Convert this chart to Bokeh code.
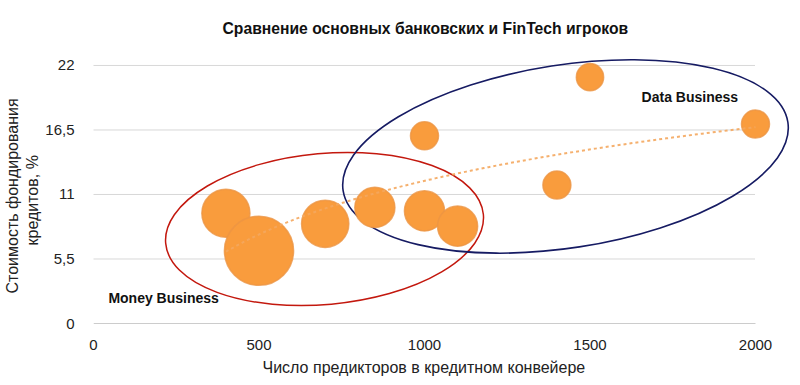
import numpy as np
from bokeh.plotting import figure
from bokeh.models import Range1d, FixedTicker, ColumnDataSource, Title
from bokeh.core.properties import value
from bokeh.embed import file_html
from bokeh.resources import INLINE

# ---- data ----
predictors = [400, 500, 700, 850, 1000, 1100, 1000, 1400, 1500, 2000]
funding_cost = [9.4, 6.2, 8.5, 9.9, 9.6, 8.3, 16.0, 11.8, 21.0, 17.0]
bubble_weight = [2.95, 6.1, 2.85, 2.05, 2.05, 2.05, 1.0, 1.0, 0.95, 1.0]
y_ticks = [0, 5.5, 11, 16.5, 22]
y_tick_labels = ["0", "5,5", "11", "16,5", "22"]
x_ticks = [0, 500, 1000, 1500, 2000]
x_tick_labels = ["0", "500", "1000", "1500", "2000"]
groups = ["Money Business", "Data Business"]
title_text = "Сравнение основных банковских и FinTech игроков"
x_title = "Число предикторов в кредитном конвейере"
y_title_lines = ["Стоимость фондирования", "кредитов, %"]

FONT = "Liberation Sans"

p = figure(width=800, height=385, output_backend="svg", toolbar_location=None,
           x_range=Range1d(0, 2136), y_range=Range1d(0, 23.02),
           min_border_left=93, min_border_right=0, min_border_top=53,
           min_border_bottom=62)
p.outline_line_color = None
p.xgrid.visible = False
p.ygrid.visible = False

# axes (tick labels only)
for ax in (p.xaxis[0], p.yaxis[0]):
    ax.axis_line_color = None
    ax.major_tick_line_color = None
    ax.minor_tick_line_color = None
    ax.major_label_text_font = FONT
    ax.major_label_text_font_size = "15px"
    ax.major_label_text_color = "#222222"

p.xaxis.ticker = FixedTicker(ticks=x_ticks)
p.xaxis.major_label_overrides = {t: l for t, l in zip(x_ticks, x_tick_labels)}
p.xaxis.major_label_standoff = 10

p.yaxis.ticker = FixedTicker(ticks=y_ticks)
p.yaxis.major_label_overrides = {t: l for t, l in zip(y_ticks, y_tick_labels)}
p.yaxis.major_label_standoff = 13

# chart title and axis titles (offset so they centre on the 0..2000 area)
p.add_layout(Title(text=title_text, align="left", offset=129, standoff=33,
                   text_font=FONT, text_font_size="15.7px", text_font_style="bold",
                   text_color="#111111"), "above")
p.add_layout(Title(text=x_title, align="left", offset=169, standoff=8,
                   text_font=FONT, text_font_size="16px", text_font_style="normal",
                   text_color="#222222"), "below")
p.add_layout(Title(text=y_title_lines[1], align="left", offset=78, standoff=3,
                   text_font=FONT, text_font_size="16px", text_font_style="normal",
                   text_color="#222222"), "left")
p.add_layout(Title(text=y_title_lines[0], align="left", offset=30, standoff=0,
                   text_font=FONT, text_font_size="16px", text_font_style="normal",
                   text_color="#222222"), "left")

# gridlines (only over 0..2000)
grid_y = [t for t in y_ticks if t > 0]
p.segment(x0=[x_ticks[0]] * len(grid_y), x1=[x_ticks[-1]] * len(grid_y),
          y0=grid_y, y1=grid_y, line_color="#b0b0b0", line_width=1, line_dash="1 1")
p.segment(x0=[x_ticks[0]], x1=[x_ticks[-1]], y0=[0], y1=[0],
          line_color="#9a9a9a", line_width=1.2)

# group ellipses
p.ellipse(x=[698], y=[8.06], width=[319], height=[151], angle=[np.radians(5.2)],
          width_units="screen", height_units="screen",
          fill_color=None, line_color="#C3180E", line_width=1.5)
p.ellipse(x=[1426], y=[14.24], width=[450], height=[183], angle=[np.radians(8.75)],
          width_units="screen", height_units="screen",
          fill_color=None, line_color="#161B63", line_width=1.6)

# bubbles
src = ColumnDataSource(dict(x=predictors, y=funding_cost,
                            r=[14.0 * np.sqrt(w) for w in bubble_weight]))
p.circle(x="x", y="y", radius="r", radius_units="screen", source=src,
         fill_color="#F99C3D", line_color="#EC9544", line_width=1.5, line_alpha=0.8)

# logarithmic trend line fitted to the data
lx = np.log(np.array(predictors, dtype=float))
b, a = np.polyfit(lx, np.array(funding_cost, dtype=float), 1)
xt = np.linspace(min(predictors), max(predictors), 120)
p.line(xt, a + b * np.log(xt), line_color="#F4A75E", line_width=2, line_dash="3 3",
       line_alpha=0.9)

# group labels
p.text(x=[45, 1656], y=[2.2, 19.3], text=groups, text_font=value(FONT),
       text_font_size="14px", text_font_style="bold", text_baseline="middle",
       text_align="left", text_color="#111111")

open("out.html", "w").write(file_html(p, INLINE))
